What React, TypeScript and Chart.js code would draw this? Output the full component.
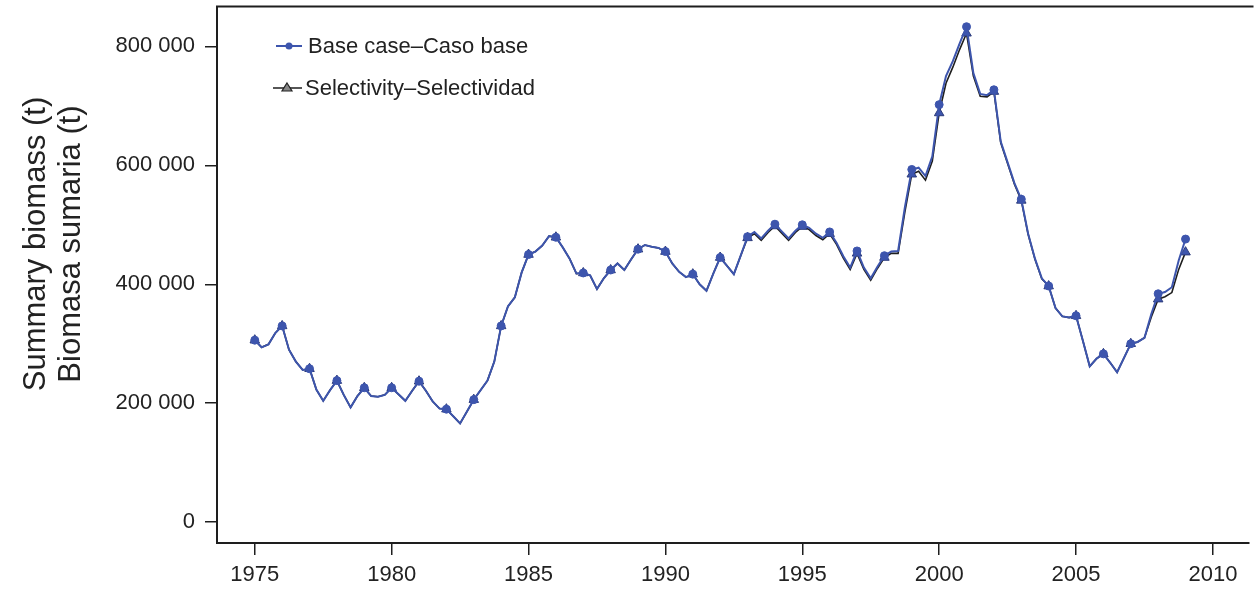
import React, { useEffect, useRef } from "react";
import { Chart, registerables } from "chart.js";

Chart.register(...registerables);

// Quarterly series, thousand tonnes, starting 1975 Q1 (one value per quarter)
const startYear = 1975;
const quarterStep = 0.25;

const baseCase = [
  306, 294, 299, 318, // 1975
  330, 290, 270, 256, // 1976
  258, 223, 204, 222, // 1977
  238, 214, 193, 212, // 1978
  226, 212, 211, 214, // 1979
  226, 215, 204, 221, // 1980
  237, 221, 203, 191, // 1981
  190, 178, 166, 186, // 1982
  206, 222, 238, 270, // 1983
  330, 363, 378, 420, // 1984
  450, 455, 465, 481, // 1985
  479, 462, 443, 418, // 1986
  419, 415, 392, 410, // 1987
  424, 435, 424, 442, // 1988
  459, 466, 463, 461, // 1989
  455, 435, 421, 412, // 1990
  417, 400, 389, 418, // 1991
  445, 431, 417, 448, // 1992
  480, 488, 477, 490, // 1993
  501, 489, 477, 490, // 1994
  500, 495, 485, 478, // 1995
  488, 470, 447, 428, // 1996
  456, 428, 410, 430, // 1997
  448, 455, 456, 530, // 1998
  593, 596, 582, 615, // 1999
  702, 750, 775, 805, // 2000
  833, 755, 720, 718, // 2001
  727, 640, 605, 570, // 2002
  543, 485, 443, 410, // 2003
  397, 360, 346, 344, // 2004
  347, 305, 262, 275, // 2005
  283, 268, 252, 276, // 2006
  300, 303, 310, 350, // 2007
  384, 387, 395, 440, // 2008
  476, // 2009
];

const selectivity = [
  306, 294, 299, 318, // 1975
  330, 290, 270, 256, // 1976
  258, 223, 204, 222, // 1977
  238, 214, 193, 212, // 1978
  226, 212, 211, 214, // 1979
  226, 215, 204, 221, // 1980
  237, 221, 203, 191, // 1981
  190, 178, 166, 186, // 1982
  206, 222, 238, 270, // 1983
  330, 363, 378, 420, // 1984
  450, 455, 465, 481, // 1985
  479, 462, 443, 418, // 1986
  419, 415, 392, 410, // 1987
  424, 435, 424, 442, // 1988
  459, 466, 463, 461, // 1989
  455, 435, 421, 412, // 1990
  417, 400, 389, 418, // 1991
  445, 431, 417, 448, // 1992
  478, 485, 474, 487, // 1993
  498, 486, 474, 487, // 1994
  497, 492, 482, 475, // 1995
  485, 467, 444, 425, // 1996
  452, 425, 407, 427, // 1997
  445, 452, 452, 522, // 1998
  585, 590, 575, 607, // 1999
  688, 738, 765, 795, // 2000
  822, 750, 716, 715, // 2001
  724, 638, 603, 568, // 2002
  541, 484, 442, 409, // 2003
  397, 360, 346, 344, // 2004
  347, 305, 262, 275, // 2005
  283, 268, 252, 276, // 2006
  300, 303, 310, 345, // 2007
  375, 379, 386, 425, // 2008
  454, // 2009
];

const xTicks = [1975, 1980, 1985, 1990, 1995, 2000, 2005, 2010];
const yTicks = [0, 200000, 400000, 600000, 800000];

const seriesLabels = ["Base case\u2013Caso base", "Selectivity\u2013Selectividad"];
const yTitleLines = ["Summary biomass (t)", "Biomasa sumaria (t)"];

const BLUE = "#3d55ad";
const DARK = "#1e1e1e";
const FONT = "'Liberation Sans', Arial, sans-serif";

const toPoints = (arr: number[]) =>
  arr.map((v, i) => ({ x: startYear + i * quarterStep, y: v * 1000 }));

const fmt = (v: number) =>
  String(Math.round(v)).replace(/\B(?=(\d{3})+(?!\d))/g, " ");

const decorPlugin = {
  id: "decor",
  afterDraw(chart: any) {
    const { ctx, chartArea } = chart;
    ctx.save();
    // top frame line
    ctx.strokeStyle = DARK;
    ctx.lineWidth = 2;
    ctx.beginPath();
    ctx.moveTo(chartArea.left - 1, chartArea.top);
    ctx.lineTo(chartArea.right + 5, chartArea.top);
    ctx.stroke();

    // y axis title (two rotated lines)
    ctx.fillStyle = "#222";
    ctx.font = `31px ${FONT}`;
    ctx.textAlign = "center";
    ctx.textBaseline = "middle";
    const xs = [36, 71];
    yTitleLines.forEach((t, i) => {
      ctx.save();
      ctx.translate(xs[i], 244);
      ctx.rotate(-Math.PI / 2);
      ctx.fillText(t, 0, 0);
      ctx.restore();
    });

    // legend
    ctx.font = `22px ${FONT}`;
    ctx.textAlign = "left";
    ctx.textBaseline = "middle";
    // item 1
    ctx.strokeStyle = BLUE;
    ctx.lineWidth = 2;
    ctx.beginPath();
    ctx.moveTo(276, 46);
    ctx.lineTo(302, 46);
    ctx.stroke();
    ctx.fillStyle = BLUE;
    ctx.beginPath();
    ctx.arc(289, 46, 3.5, 0, Math.PI * 2);
    ctx.fill();
    ctx.fillStyle = "#222";
    ctx.fillText(seriesLabels[0], 308, 47);
    // item 2
    ctx.strokeStyle = DARK;
    ctx.lineWidth = 1.5;
    ctx.beginPath();
    ctx.moveTo(273, 88);
    ctx.lineTo(302, 88);
    ctx.stroke();
    ctx.fillStyle = "#888";
    ctx.strokeStyle = "#222";
    ctx.lineWidth = 1.2;
    ctx.beginPath();
    ctx.moveTo(287, 83);
    ctx.lineTo(292, 91);
    ctx.lineTo(282, 91);
    ctx.closePath();
    ctx.fill();
    ctx.stroke();
    ctx.fillStyle = "#222";
    ctx.fillText(seriesLabels[1], 305, 89);
    ctx.restore();
  },
};

export default function App() {
  const ref = useRef<HTMLCanvasElement | null>(null);

  useEffect(() => {
    document.body.style.margin = "0";
    const canvas = ref.current;
    if (!canvas) return;
    const chart = new Chart(canvas, {
      type: "line",
      data: {
        datasets: [
          {
            label: seriesLabels[0],
            data: toPoints(baseCase),
            borderColor: BLUE,
            borderWidth: 2,
            backgroundColor: BLUE,
            pointStyle: "circle",
            pointRadius: (c: any) => (c.dataIndex % 4 === 0 ? 4 : 0),
            pointBackgroundColor: BLUE,
            pointBorderColor: BLUE,
            pointBorderWidth: 1,
            tension: 0,
          },
          {
            label: seriesLabels[1],
            data: toPoints(selectivity),
            borderColor: DARK,
            borderWidth: 1.6,
            backgroundColor: BLUE,
            pointStyle: "triangle",
            pointRadius: (c: any) => (c.dataIndex % 4 === 0 ? 5.5 : 0),
            pointBackgroundColor: BLUE,
            pointBorderColor: "#2b3a7a",
            pointBorderWidth: 1,
            tension: 0,
          },
        ],
      },
      options: {
        animation: false,
        responsive: false,
        parsing: false as any,
        layout: { padding: { top: 5, right: 2, left: 0, bottom: 0 } },
        plugins: {
          legend: { display: false },
          tooltip: { enabled: false },
          title: { display: false },
        },
        scales: {
          x: {
            type: "linear",
            min: 1973.62,
            max: 2011.3,
            afterBuildTicks: (s: any) => {
              s.ticks = xTicks.map((v) => ({ value: v }));
            },
            afterFit: (s: any) => {
              s.height = 49;
              s.paddingLeft = 0;
              s.paddingRight = 0;
            },
            grid: {
              display: true,
              drawOnChartArea: false,
              drawTicks: true,
              tickLength: 12,
              color: DARK,
              lineWidth: 1.5,
            },
            border: { display: true, color: DARK, width: 2 },
            ticks: {
              color: "#222",
              font: { size: 22, family: FONT },
              padding: 7,
              maxRotation: 0,
              autoSkip: false,
              callback: (v: any) => String(v),
            },
          },
          y: {
            type: "linear",
            min: -35000,
            max: 867000,
            afterBuildTicks: (s: any) => {
              s.ticks = yTicks.map((v) => ({ value: v }));
            },
            afterFit: (s: any) => {
              s.width = 217;
              s.paddingTop = 0;
              s.paddingBottom = 0;
            },
            grid: {
              display: true,
              drawOnChartArea: false,
              drawTicks: true,
              tickLength: 12,
              color: DARK,
              lineWidth: 1.5,
            },
            border: { display: true, color: DARK, width: 2 },
            ticks: {
              color: "#222",
              font: { size: 22, family: FONT },
              padding: 10,
              autoSkip: false,
              callback: (v: any) => fmt(Number(v)),
            },
          },
        },
      },
      plugins: [decorPlugin],
    } as any);
    return () => chart.destroy();
  }, []);

  return (
    <div style={{ width: 1255, height: 592, background: "#fff" }}>
      <canvas ref={ref} width={1255} height={592} style={{ display: "block" }} />
    </div>
  );
}
